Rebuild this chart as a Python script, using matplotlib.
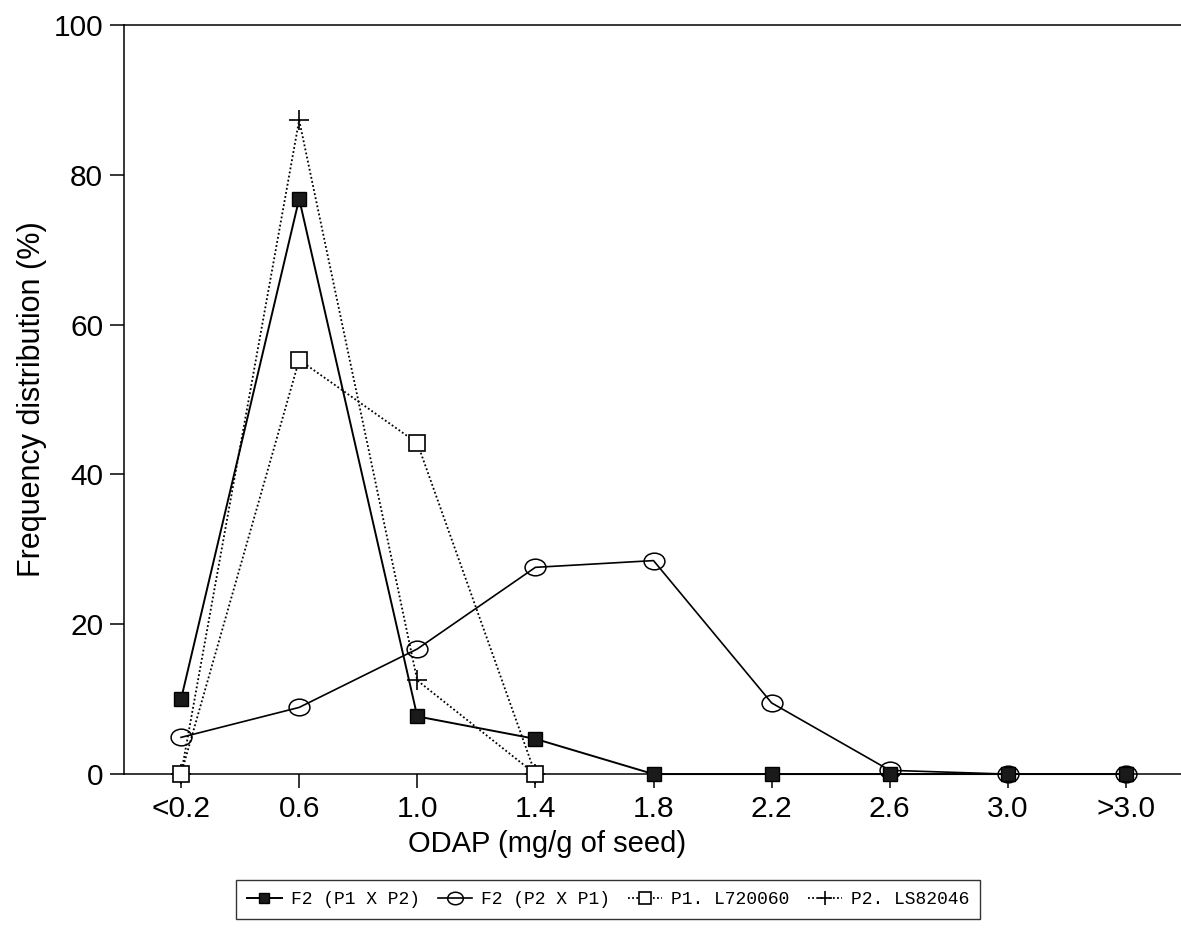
import matplotlib
matplotlib.use("Agg")
import matplotlib.pyplot as plt
from matplotlib.path import Path
from matplotlib.transforms import Affine2D

# ---------- data ----------
categories = ["<0.2", "0.6", "1.0", "1.4", "1.8", "2.2", "2.6", "3.0", ">3.0"]
f2_p1xp2 = [10.0, 76.8, 7.7, 4.7, 0, 0, 0, 0, 0]
f2_p2xp1 = [4.9, 8.9, 16.7, 27.6, 28.5, 9.5, 0.5, 0, 0]
p1_l720060 = [0, 55.3, 44.2, 0]
p2_ls82046 = [0, 87.3, 12.5, 0]
y_ticks = [0, 20, 40, 60, 80, 100]

x = list(range(len(categories)))

plt.rcParams["font.family"] = ["Liberation Sans", "DejaVu Sans"]

# slightly flattened circle, like the scanned original
ellipse = Affine2D().scale(1.0, 0.8).transform_path(Path.unit_circle())

fig = plt.figure(figsize=(11.81, 9.44), dpi=100)
ax = fig.add_axes([0.105, 0.18, 0.895, 0.7935])

dot = (0, (1, 1.3))
ax.plot(x[:4], p2_ls82046, color="black", lw=1.3, ls=dot, marker="+",
        ms=14, mew=1.2, label="P2. LS82046", zorder=2, clip_on=False)
ax.plot(x[:4], p1_l720060, color="black", lw=1.3, ls=dot, marker="s",
        ms=11, mfc="white", mec="black", mew=1.2, label="P1. L720060",
        zorder=3, clip_on=False)
ax.plot(x, f2_p2xp1, color="black", lw=1.2, marker=ellipse, ms=15,
        mfc="none", mec="black", mew=1.1, label="F2 (P2 X P1)", zorder=4,
        clip_on=False)
ax.plot(x, f2_p1xp2, color="black", lw=1.4, marker="s", ms=10,
        mfc="#1a1a1a", mec="black", label="F2 (P1 X P2)", zorder=5,
        clip_on=False)

ax.set_xlim(-0.483, 8.466)
ax.set_ylim(0, 100)
ax.set_xticks(x)
ax.set_xticklabels(categories)
ax.set_yticks(y_ticks)
ax.tick_params(axis="both", direction="out", length=10, width=1.1,
               labelsize=21.5, pad=5)
ax.spines["right"].set_visible(False)
for s in ["left", "bottom", "top"]:
    ax.spines[s].set_linewidth(1.1)

ax.set_xlabel("ODAP (mg/g of seed)", fontsize=21)
ax.xaxis.set_label_coords(0.40, -0.075)
ax.set_ylabel("Frequency distribution (%)", fontsize=22, labelpad=5)

handles, labels = ax.get_legend_handles_labels()
order = [3, 2, 1, 0]
leg = fig.legend([handles[i] for i in order], [labels[i] for i in order],
                 loc="center", bbox_to_anchor=(0.515, 0.047), ncol=4,
                 frameon=True, fancybox=False, edgecolor="black",
                 prop={"family": "Liberation Mono", "size": 13},
                 handlelength=1.9, columnspacing=1.0, handletextpad=0.5,
                 borderpad=0.6, markerscale=0.75)
leg.get_frame().set_linewidth(1.0)

fig.savefig("out.png", dpi=100)
